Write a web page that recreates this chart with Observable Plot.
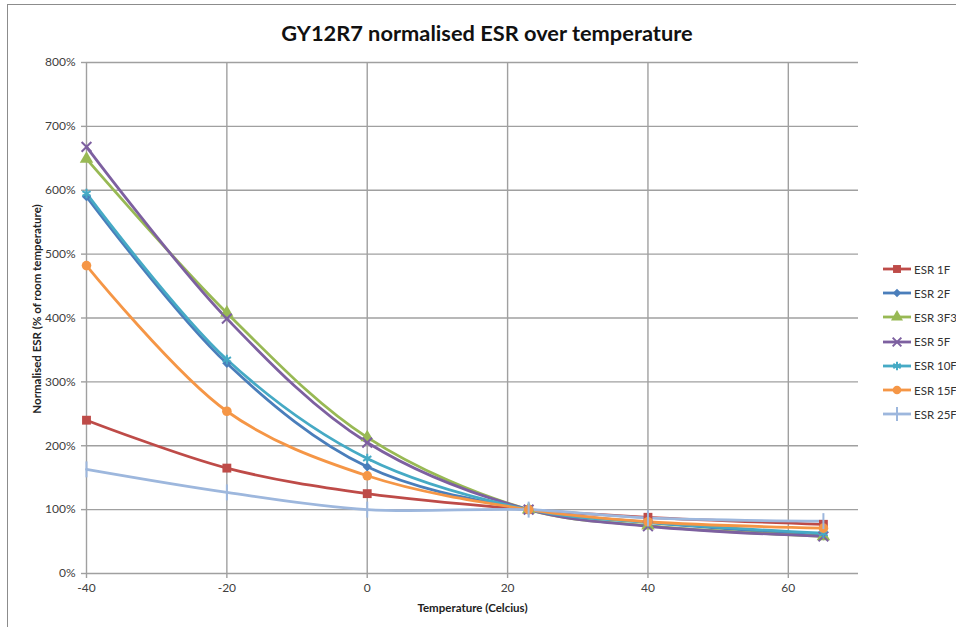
<!DOCTYPE html>
<html>
<head>
<meta charset="utf-8">
<script src="https://cdn.jsdelivr.net/npm/d3@7"></script>
<script src="https://cdn.jsdelivr.net/npm/@observablehq/plot@0.6"></script>
<style>
  html, body { margin: 0; padding: 0; background: #fff; }
  #wrap { position: relative; width: 956px; height: 627px; overflow: hidden; font-family: Lato, "Open Sans", sans-serif; }
  #frame { position: absolute; left: 7px; top: 4px; width: 960px; height: 640px; border-left: 1px solid #8c8c8c; border-top: 1px solid #8c8c8c; }
  #title { position: absolute; left: 0; width: 974px; top: 19px; text-align: center; font-weight: bold; font-size: 21.8px; color: #111; }
  #chart { position: absolute; left: 0; top: 0; }
  #legend { position: absolute; left: 882px; top: 257px; font-size: 11.5px; color: #333; white-space: nowrap; width: 80px; }
  .lrow { height: 24.2px; display: flex; align-items: center; white-space: nowrap; }
  .lrow svg { margin-right: 2px; flex: none; }
</style>
</head>
<body>
<div id="wrap">
  <div id="frame"></div>
  <div id="chart"></div>
  <div id="title">GY12R7 normalised ESR over temperature</div>
  <div id="legend"></div>
</div>
<script>
// ---- data ----
const temps = [-40, -20, 0, 23, 40, 65];
const seriesNames = ["ESR 1F", "ESR 2F", "ESR 3F3", "ESR 5F", "ESR 10F", "ESR 15F", "ESR 25F"];
const esr1F  = [2.40, 1.65, 1.25, 1.00, 0.88, 0.77];
const esr2F  = [5.90, 3.29, 1.67, 1.00, 0.80, 0.59];
const esr3F3 = [6.49, 4.08, 2.13, 1.00, 0.75, 0.58];
const esr5F  = [6.68, 3.99, 2.05, 1.00, 0.74, 0.58];
const esr10F = [5.95, 3.35, 1.80, 1.00, 0.80, 0.63];
const esr15F = [4.82, 2.54, 1.53, 1.00, 0.81, 0.71];
const esr25F = [1.63, 1.27, 1.00, 1.00, 0.87, 0.82];
const seriesValues = [esr1F, esr2F, esr3F3, esr5F, esr10F, esr15F, esr25F];
const seriesColors = ["#BE4B48", "#4A7EBB", "#98B954", "#7D60A0", "#46AAC5", "#F59646", "#9DB7DD"];
const yTicks = [0, 1, 2, 3, 4, 5, 6, 7, 8];
const xTicks = [-40, -20, 0, 20, 40, 60];
const xLabel = "Temperature (Celcius)";
const yLabel = "Normalised ESR (% of room temperature)";

// ---- symbols ----
const vbar = { draw(ctx, size) { const h = Math.sqrt(size) * 0.75; ctx.moveTo(0, -h); ctx.lineTo(0, h); } };
const symbolSpec = [
  { s: "square", filled: true, r: 5 },
  { s: "diamond2", filled: true, r: 4.2 },
  { s: "triangle", filled: true, r: 5 },
  { s: "times", filled: false, r: 4.5 },
  { s: "asterisk", filled: false, r: 4.5 },
  { s: "circle", filled: true, r: 4.8 },
  { s: vbar, filled: false, r: 6 }
];

const table = [];
seriesNames.forEach((name, i) => {
  temps.forEach((t, j) => table.push({ series: name, t, v: seriesValues[i][j] }));
});

const grid = { stroke: "#a0a0a0", strokeOpacity: 1, strokeWidth: 1.4 };

const dotMarks = seriesNames.map((name, i) => {
  const sp = symbolSpec[i];
  const data = table.filter(d => d.series === name);
  return sp.filled
    ? Plot.dot(data, { x: "t", y: "v", symbol: sp.s, r: sp.r, fill: seriesColors[i], stroke: "none" })
    : Plot.dot(data, { x: "t", y: "v", symbol: sp.s, r: sp.r, fill: "none", stroke: seriesColors[i], strokeWidth: 2 });
});

const chart = Plot.plot({
  width: 956,
  height: 627,
  marginTop: 62,
  marginBottom: 54,
  marginLeft: 86,
  marginRight: 98,
  style: { fontFamily: "Lato, 'Open Sans', sans-serif", fontSize: "12px", color: "#404040", background: "transparent", overflow: "visible" },
  x: { domain: [-40, 70] },
  y: { domain: [0, 8] },
  color: { domain: seriesNames, range: seriesColors },
  marks: [
    Plot.gridY(yTicks.slice(1), grid),
    Plot.gridX(xTicks.slice(1), grid),
    Plot.ruleX([-40], grid),
    Plot.ruleY([0], grid),
    Plot.axisY(yTicks, { tickFormat: d => Math.round(d * 100) + "%", tickSize: 5, tickPadding: 6, stroke: "#a0a0a0", strokeWidth: 1.4, fill: "#404040", fontSize: 12, label: null }),
    Plot.axisX(xTicks, { tickFormat: d => String(d), tickSize: 5, tickPadding: 5, stroke: "#a0a0a0", strokeWidth: 1.4, fill: "#404040", fontSize: 12, label: null }),
    Plot.text([yLabel], { frameAnchor: "left", textAnchor: "middle", dx: -49, dy: -9, rotate: -90, fontWeight: "bold", fontSize: 11.5, fill: "#222" }),
    Plot.text([xLabel], { frameAnchor: "bottom", textAnchor: "middle", dy: 38, fontWeight: "bold", fontSize: 11.5, fill: "#222" }),
    Plot.line(table, { x: "t", y: "v", z: "series", stroke: "series", curve: "catmull-rom", strokeWidth: 2.8 }),
    ...dotMarks
  ]
});
document.getElementById("chart").appendChild(chart);

// ---- legend ----
const legend = d3.select("#legend");
const namedSym = { square: d3.symbolSquare, diamond2: d3.symbolDiamond2, triangle: d3.symbolTriangle, times: d3.symbolTimes, asterisk: d3.symbolAsterisk, circle: d3.symbolCircle };
seriesNames.forEach((name, i) => {
  const sp = symbolSpec[i];
  const row = legend.append("div").attr("class", "lrow");
  const svg = row.append("svg").attr("width", 30).attr("height", 14);
  svg.append("line").attr("x1", 1).attr("x2", 29).attr("y1", 7).attr("y2", 7).attr("stroke", seriesColors[i]).attr("stroke-width", 2.8);
  const type = typeof sp.s === "string" ? namedSym[sp.s] : sp.s;
  const path = d3.symbol(type, Math.PI * sp.r * sp.r * 0.8)();
  const p = svg.append("path").attr("d", path).attr("transform", "translate(15,7)");
  if (sp.filled) p.attr("fill", seriesColors[i]);
  else p.attr("fill", "none").attr("stroke", seriesColors[i]).attr("stroke-width", 2);
  row.append("span").text(name);
});
</script>
</body>
</html>
